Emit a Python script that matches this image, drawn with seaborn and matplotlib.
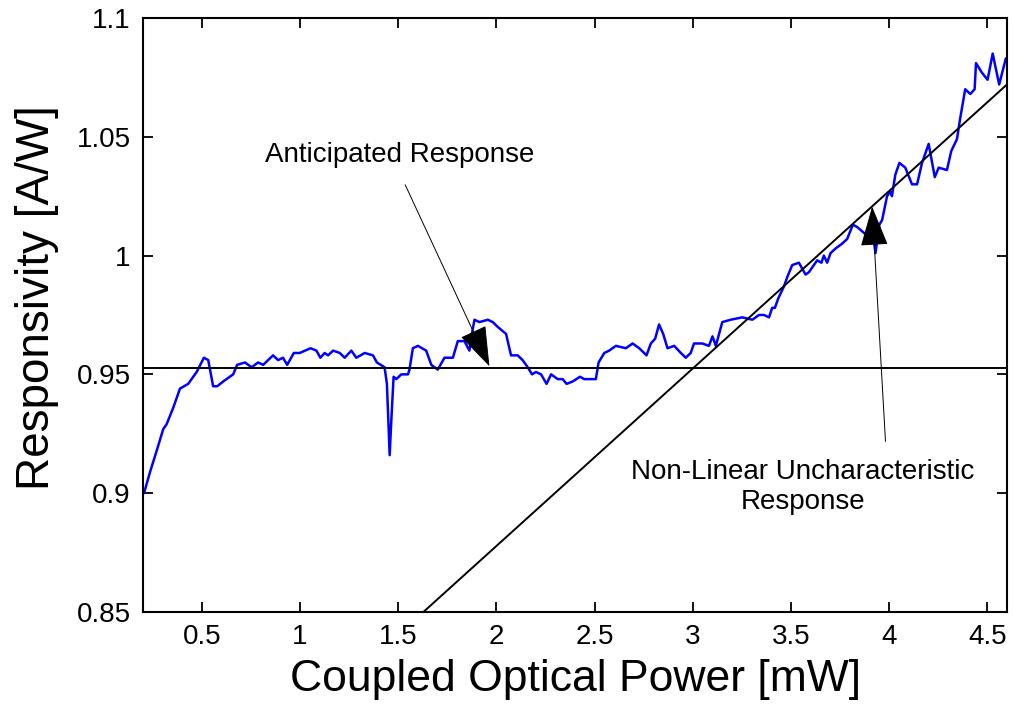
import numpy as np
import pandas as pd
import matplotlib
matplotlib.use("Agg")
import matplotlib.pyplot as plt
from matplotlib.ticker import FuncFormatter
import seaborn as sns

power_mw = [
    0.205, 0.236, 0.270, 0.303, 0.320, 0.354, 0.388, 0.430, 0.473, 0.510,
    0.532, 0.557, 0.578, 0.608, 0.659, 0.679, 0.719, 0.753, 0.786, 0.812,
    0.862, 0.888, 0.913, 0.934, 0.968, 0.998, 1.053, 1.083, 1.103, 1.125,
    1.142, 1.168, 1.202, 1.227, 1.261, 1.286, 1.329, 1.371, 1.391, 1.430,
    1.442, 1.456, 1.464, 1.476, 1.490, 1.515, 1.549, 1.557, 1.574, 1.600,
    1.642, 1.668, 1.701, 1.735, 1.778, 1.803, 1.837, 1.862, 1.879, 1.888,
    1.913, 1.956, 1.981, 2.006, 2.049, 2.074, 2.108, 2.133, 2.159, 2.181,
    2.201, 2.227, 2.255, 2.278, 2.312, 2.337, 2.357, 2.388, 2.425, 2.447,
    2.481, 2.506, 2.520, 2.549, 2.574, 2.608, 2.659, 2.693, 2.727, 2.764,
    2.786, 2.808, 2.828, 2.849, 2.871, 2.905, 2.939, 2.964, 2.989, 3.006,
    3.048, 3.082, 3.100, 3.117, 3.150, 3.193, 3.252, 3.303, 3.337, 3.362,
    3.388, 3.404, 3.418, 3.435, 3.464, 3.481, 3.506, 3.540, 3.574, 3.591,
    3.608, 3.633, 3.655, 3.667, 3.684, 3.701, 3.727, 3.760, 3.786, 3.815,
    3.837, 3.879, 3.913, 3.930, 3.950, 3.964, 3.989, 4.006, 4.014, 4.031,
    4.052, 4.082, 4.116, 4.142, 4.167, 4.201, 4.232, 4.252, 4.294, 4.316,
    4.345, 4.362, 4.387, 4.413, 4.435, 4.442, 4.472, 4.501, 4.527, 4.560,
    4.594,
]
responsivity = [
    0.900, 0.909, 0.918, 0.927, 0.929, 0.936, 0.944, 0.946, 0.951, 0.957,
    0.956, 0.945, 0.945, 0.947, 0.950, 0.954, 0.955, 0.953, 0.955, 0.954,
    0.958, 0.956, 0.957, 0.954, 0.959, 0.959, 0.961, 0.960, 0.957, 0.959,
    0.958, 0.960, 0.959, 0.957, 0.960, 0.957, 0.959, 0.958, 0.955, 0.953,
    0.946, 0.916, 0.930, 0.949, 0.948, 0.950, 0.950, 0.952, 0.961, 0.962,
    0.960, 0.954, 0.952, 0.957, 0.957, 0.964, 0.964, 0.960, 0.969, 0.973,
    0.972, 0.973, 0.972, 0.970, 0.967, 0.958, 0.958, 0.956, 0.953, 0.950,
    0.951, 0.950, 0.946, 0.950, 0.948, 0.948, 0.946, 0.947, 0.949, 0.948,
    0.948, 0.948, 0.955, 0.959, 0.960, 0.962, 0.961, 0.963, 0.961, 0.958,
    0.963, 0.965, 0.971, 0.967, 0.961, 0.962, 0.959, 0.957, 0.959, 0.963,
    0.963, 0.962, 0.966, 0.962, 0.972, 0.973, 0.974, 0.973, 0.975, 0.975,
    0.974, 0.978, 0.978, 0.982, 0.987, 0.991, 0.996, 0.997, 0.992, 0.993,
    0.995, 0.998, 0.997, 1.000, 0.997, 1.001, 1.003, 1.005, 1.007, 1.013,
    1.012, 1.009, 1.013, 1.001, 1.013, 1.015, 1.025, 1.027, 1.025, 1.034,
    1.039, 1.037, 1.030, 1.030, 1.039, 1.047, 1.033, 1.037, 1.036, 1.044,
    1.049, 1.058, 1.070, 1.068, 1.070, 1.081, 1.077, 1.074, 1.085, 1.072,
    1.083,
]

# reference lines
flat_level = 0.9525
trend_anchor = (3.0, 0.9525)
trend_slope = 0.0747

x_ticks = [0.5, 1, 1.5, 2, 2.5, 3, 3.5, 4, 4.5]
y_ticks = [0.85, 0.9, 0.95, 1.0, 1.05, 1.1]

df = pd.DataFrame({"power": power_mw, "resp": responsivity})

sns.set_style("ticks")
plt.rcParams["font.family"] = ["Liberation Sans", "DejaVu Sans"]
plt.rcParams["text.color"] = "black"
plt.rcParams["axes.labelcolor"] = "black"

fig = plt.figure(figsize=(10.13, 7.13), dpi=100)
ax = fig.add_axes([0.1412, 0.1417, 0.8529, 0.8331])

sns.lineplot(data=df, x="power", y="resp", ax=ax, color="#0000ff",
             linewidth=1.8, estimator=None, sort=False)
ax.axhline(flat_level, color="black", linewidth=1.4)
ax.axline(trend_anchor, slope=trend_slope, color="black", linewidth=1.4)

ax.set_xlim(0.2, 4.6)
ax.set_ylim(0.85, 1.1)
ax.set_xticks(x_ticks)
ax.set_yticks(y_ticks)
fmt = FuncFormatter(lambda v, p: f"{v:g}")
ax.xaxis.set_major_formatter(fmt)
ax.yaxis.set_major_formatter(fmt)
ax.tick_params(direction="in", length=7, width=1.3, labelsize=20,
               top=True, right=True, pad=9, colors="black")
for s in ax.spines.values():
    s.set_linewidth(1.5)
    s.set_color("black")

ax.set_xlabel("Coupled Optical Power [mW]", fontsize=32, labelpad=6)
ax.set_ylabel("Responsivity [A/W]", fontsize=33)
ax.yaxis.set_label_coords(-0.097, 0.53)

arrow_kw = dict(arrowstyle="-|>,head_length=1.3,head_width=0.45",
                color="black", lw=0.7, shrinkA=0, shrinkB=0,
                mutation_scale=20)

ax.text(1.507, 1.0424, "Anticipated Response", fontsize=20,
        ha="center", va="center")
ax.annotate("", xy=(1.964, 0.9534), xytext=(1.535, 1.0298),
            arrowprops=arrow_kw)

ax.text(3.56, 0.9027, "Non-Linear Uncharacteristic\nResponse", fontsize=20,
        ha="center", va="center", multialignment="center")
ax.annotate("", xy=(3.913, 1.0206), xytext=(3.981, 0.9218),
            arrowprops=arrow_kw)

fig.savefig("out.png", dpi=100)
plt.close(fig)
